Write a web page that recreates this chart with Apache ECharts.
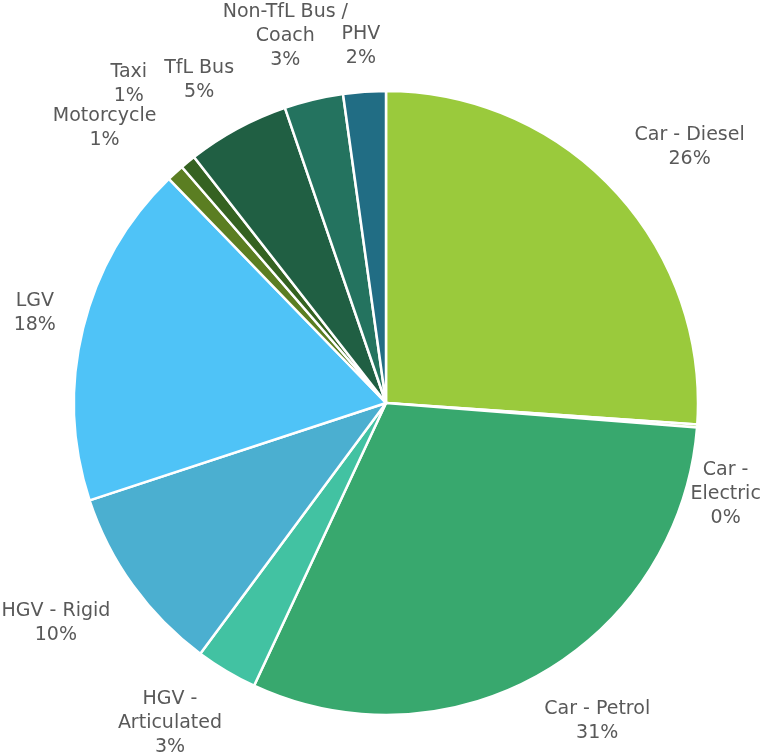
<!DOCTYPE html>
<html><head><meta charset="utf-8">
<script src="https://cdn.jsdelivr.net/npm/echarts@6/dist/echarts.min.js"></script>
<style>html,body{margin:0;padding:0;background:#fff}#c{width:762px;height:756px}</style>
</head><body><div id="c"></div>
<script>
const categories = ['Car - Diesel','Car -\nElectric','Car - Petrol','HGV -\nArticulated','HGV - Rigid','LGV','Motorcycle','Taxi','TfL Bus','Non-TfL Bus /\nCoach','PHV'];
const shares = [26.1, 0.15, 30.7, 3.2, 9.8, 17.8, 0.9, 0.8, 5.3, 3.05, 2.2];
const colors = ['#9aca3c','#8fd14f','#38a86e','#42c2a2','#4bafd0','#4fc3f7','#5b7e22','#356221','#205f43','#24735f','#216d84'];

const W = 762, H = 756, CX = 386, CY = 403, R = 312, GAP = 28, FONT = 19, LH = 24;
const FAMILY = '"DejaVu Sans", sans-serif';
function labelText(i) { return categories[i] + '\n' + Math.round(shares[i]) + '%'; }

const ctx = document.createElement('canvas').getContext('2d');
ctx.font = FONT + 'px ' + FAMILY;
const total = shares.reduce((a, b) => a + b, 0);
const placed = [];   // arrays of line boxes
const centers = [];
let acc = 0;
const soft = x => Math.max(-1, Math.min(1, x * 1.5));
function lineBoxes(cx, cy, widths) {
  const n = widths.length, top = cy - n * LH / 2;
  return widths.map((w, k) => ({x0: cx - w / 2, x1: cx + w / 2, y0: top + k * LH + 3, y1: top + (k + 1) * LH - 3}));
}
function hit(a, b) { return !(a.x1 + 8 < b.x0 || a.x0 - 8 > b.x1 || a.y1 + 2 < b.y0 || a.y0 - 2 > b.y1); }
function bad(boxes) {
  for (const b of boxes) {
    if (b.x0 < 0 || b.x1 > W || b.y0 < 2 || b.y1 > H) return true;
    const px = Math.max(b.x0, Math.min(CX, b.x1)), py = Math.max(b.y0, Math.min(CY, b.y1));
    if (Math.hypot(px - CX, py - CY) < R + 3) return true;
    for (const p of placed) for (const q of p) if (hit(b, q)) return true;
  }
  return false;
}
shares.forEach((v, i) => {
  const mid = (acc + v / 2) / total * Math.PI * 2; acc += v;
  const lines = labelText(i).split('\n');
  const widths = lines.map(l => ctx.measureText(l).width);
  const w = Math.max(...widths), h = lines.length * LH;
  const dx = Math.sin(mid), dy = -Math.cos(mid), tx = Math.cos(mid), ty = Math.sin(mid);
  const bx = CX + dx * (R + GAP) + soft(dx) * w / 2, by = CY + dy * (R + GAP) + soft(dy) * h / 2;
  let best = null, bestCost = Infinity;
  for (let e = -40; e <= 120; e += 2) {
    for (let t = -140; t <= 140; t += 2) {
      const cost = Math.hypot(e > 0 ? e * 0.4 : -e, t);
      if (cost >= bestCost) continue;
      const cx = bx + dx * e + tx * t, cy = by + dy * e + ty * t;
      const boxes = lineBoxes(cx, cy, widths);
      if (bad(boxes)) continue;
      best = {cx, cy, boxes}; bestCost = cost;
    }
  }
  if (!best) best = {cx: bx, cy: by, boxes: lineBoxes(bx, by, widths)};
  placed.push(best.boxes);
  centers.push(best);
});

const chart = echarts.init(document.getElementById('c'), null, {renderer: 'canvas'});
chart.setOption({
  backgroundColor: '#ffffff',
  animation: false,
  series: [{
    type: 'pie',
    center: [CX, CY],
    radius: [0, R],
    startAngle: 90,
    clockwise: true,
    avoidLabelOverlap: false,
    minAngle: 0,
    data: categories.map((c, i) => ({name: c, value: shares[i], itemStyle: {color: colors[i]}})),
    itemStyle: {borderColor: '#ffffff', borderWidth: 2.5},
    label: {
      show: true,
      position: 'outside',
      formatter: p => labelText(p.dataIndex),
      color: '#595959',
      fontSize: FONT,
      lineHeight: LH,
      fontFamily: FAMILY,
      align: 'center'
    },
    labelLine: {show: false},
    labelLayout: p => {
      const b = centers[p.dataIndex];
      return {x: b.cx, y: b.cy, align: 'center', verticalAlign: 'middle'};
    },
    emphasis: {disabled: true}
  }]
});
</script></body></html>
